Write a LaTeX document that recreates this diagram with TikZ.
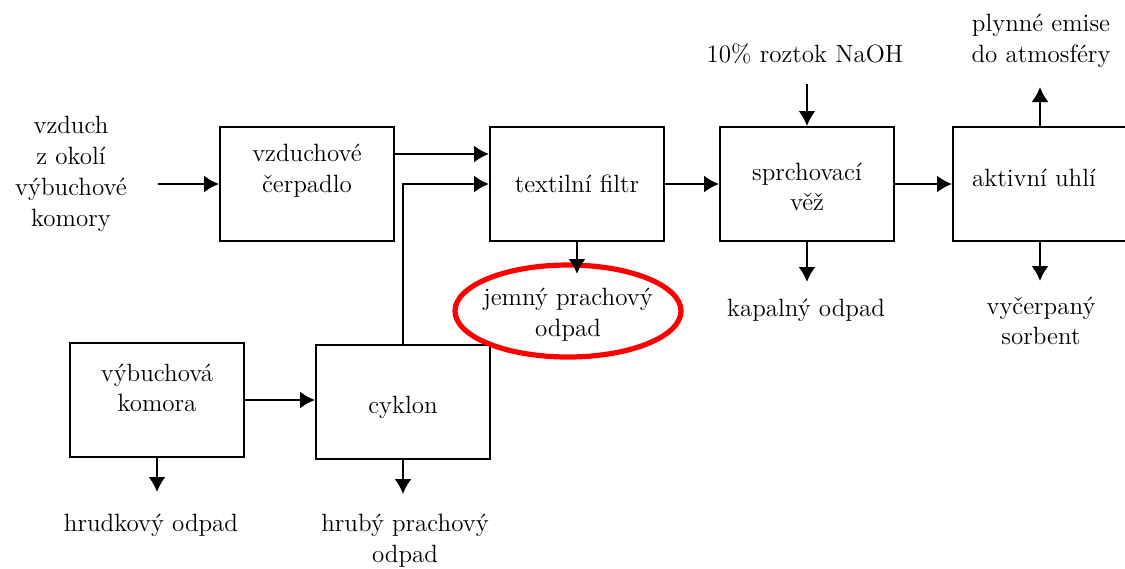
\documentclass[tikz,border=0pt]{standalone}
\usetikzlibrary{calc}
\usetikzlibrary{arrows.meta}

\begin{document}
\begin{tikzpicture}[x=0.5pt, y=-0.5pt,
    font=\fontsize{12.5}{15.4}\selectfont,
    box/.style={draw, line width=1pt, minimum width=87pt, minimum height=57pt, inner sep=0pt, align=center},
    txt/.style={align=center, inner sep=0pt},
    flow/.style={line width=1pt, -{Latex[length=7.5pt, width=8.5pt]}}]
    \useasboundingbox (0, 0) rectangle (1125, 568);

    % boxes of the line
    \node [box] (cerpadlo) at (307, 184) {};
    \node [txt] (cerpadlo-t) at (307, 171) {vzduchové\\čerpadlo};
    \node [box] (filtr) at (577, 184) {textilní filtr};
    \node [box] (vez) at (807, 184) {};
    \node [txt] (vez-t) at (807, 187) {sprchovací\\věž};
    \node [box] (uhli) at (1040, 184) {};
    \node [txt] (uhli-t) at (1034, 178) {aktivní uhlí};
    \node [box] (komora) at (157, 400) {};
    \node [txt] (komora-t) at (157, 388) {výbuchová\\komora};
    \node [box] (cyklon) at (403, 402) {};
    \node [txt] (cyklon-t) at (403, 407) {cyklon};

    % inputs and outputs
    \node [txt] (vzduch) at (71, 174) {vzduch\\z okolí\\výbuchové\\komory};
    \node [txt] (naoh) at (805, 54) {10\% roztok NaOH};
    \node [txt] (emise) at (1041, 41) {plynné emise\\do atmosféry};
    \node [txt] (kapalny) at (806, 310) {kapalný odpad};
    \node [txt] (sorbent) at (1041, 321) {vyčerpaný\\sorbent};
    \node [txt] (hrudkovy) at (151, 525) {hrudkový odpad};
    \node [txt] (hruby) at (405, 541) {hrubý prachový\\odpad};
    \node [txt] (jemny) at (568, 315) {jemný prachový\\odpad};
    \draw [red, line width=2.6pt] (568, 311) ellipse (113 and 46);

    \coordinate (vzduch-out) at (158, 184);
    \coordinate (naoh-out) at (807, 84);
    \coordinate (jemny-in) at (577, 274);
    \coordinate (kapalny-in) at (807, 282);
    \coordinate (emise-in) at (1040, 87);
    \coordinate (sorbent-in) at (1040, 281);
    \coordinate (hrudkovy-in) at (157, 492);
    \coordinate (hruby-in) at (403, 494);

    \draw [flow] (vzduch-out) -- (cerpadlo.west);
    \draw [flow] ([yshift=15pt]cerpadlo.east) -- ([yshift=15pt]cerpadlo.east -| filtr.west);
    \draw [flow] (cyklon.north) |- (filtr.west);
    \draw [flow] (filtr.south) -- (jemny-in);
    \draw [flow] (filtr.east) -- (vez.west);
    \draw [flow] (naoh-out) -- (vez.north);
    \draw [flow] (vez.south) -- (kapalny-in);
    \draw [flow] (vez.east) -- (uhli.west);
    \draw [flow] (uhli.north) -- (emise-in);
    \draw [flow] (uhli.south) -- (sorbent-in);
    \draw [flow] (komora.east) -- (komora.east -| cyklon.west);
    \draw [flow] (komora.south) -- (hrudkovy-in);
    \draw [flow] (cyklon.south) -- (hruby-in);
\end{tikzpicture}
\end{document}
